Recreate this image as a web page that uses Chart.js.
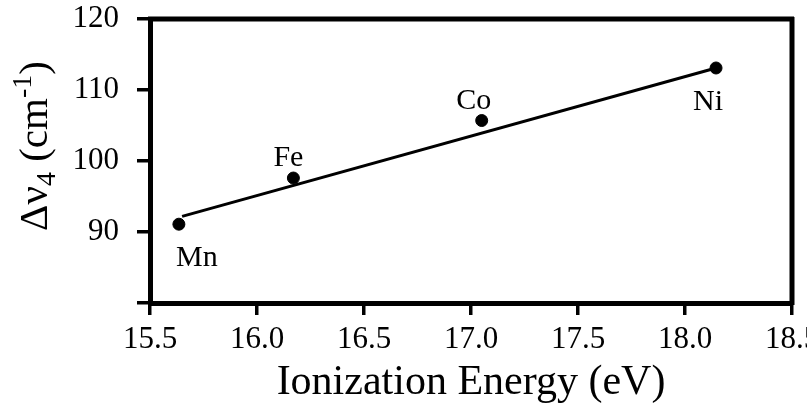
<!DOCTYPE html>
<html><head><meta charset="utf-8">
<script src="https://cdn.jsdelivr.net/npm/chart.js@4"></script>
<style>html,body{margin:0;padding:0;background:#fff}#wrap{width:807px;height:412px}</style>
</head><body><div id="wrap"><canvas id="c" width="807" height="412"></canvas></div>
<script>
const elements = ['Mn', 'Fe', 'Co', 'Ni'];
const ionization = [15.635, 16.17, 17.05, 18.145];
const deltaNu4 = [91.1, 97.6, 105.7, 113.1];
const labelSide = ['below', 'above', 'above', 'below'];
const fitX = [15.65, 18.145];
const fitY = [92.2, 113.1];
const xTicks = [15.5, 16.0, 16.5, 17.0, 17.5, 18.0, 18.5];
const yTicks = [80, 90, 100, 110, 120];
const yTickLabels = ['', '90', '100', '110', '120'];

const SERIF = '"Liberation Serif", "DejaVu Serif", serif';
const labelDx = [18, -5, -8, -8];

const pointLabels = {
  id: 'pointLabels',
  afterDatasetsDraw(chart) {
    const ctx = chart.ctx;
    const meta = chart.getDatasetMeta(1);
    ctx.save();
    ctx.font = '30px ' + SERIF;
    ctx.fillStyle = '#000';
    ctx.textAlign = 'center';
    ctx.textBaseline = 'alphabetic';
    meta.data.forEach((pt, i) => {
      const dy = labelSide[i] === 'below' ? 42 : -12;
      ctx.fillText(elements[i], pt.x + labelDx[i], pt.y + dy);
    });
    ctx.restore();
  }
};

const frame = {
  id: 'frame',
  afterDraw(chart) {
    const a = chart.chartArea, ctx = chart.ctx;
    ctx.save();
    ctx.strokeStyle = '#000';
    ctx.lineWidth = 5;
    ctx.beginPath();
    ctx.moveTo(a.left - 2, a.top); ctx.lineTo(a.right + 2, a.top);
    ctx.moveTo(a.right, a.top - 2); ctx.lineTo(a.right, a.bottom + 2);
    ctx.stroke();
    // y title with subscript / superscript
    ctx.translate(33, 146);
    ctx.rotate(-Math.PI / 2);
    ctx.fillStyle = '#000';
    ctx.textBaseline = 'alphabetic';
    const big = '41px ' + SERIF, small = '28px ' + SERIF;
    const parts = [['Δν', big, 0], ['4', small, 8], [' (cm', big, 0], ['-1', small, -16], [')', big, 0]];
    let w = 0;
    parts.forEach(p => { ctx.font = p[1]; w += ctx.measureText(p[0]).width; });
    let x = -w / 2;
    parts.forEach(p => { ctx.font = p[1]; ctx.fillText(p[0], x, 14 + p[2]); x += ctx.measureText(p[0]).width; });
    ctx.restore();
  }
};

new Chart(document.getElementById('c'), {
  data: {
    datasets: [
      {
        type: 'line',
        data: fitX.map((x, i) => ({ x, y: fitY[i] })),
        borderColor: '#000', borderWidth: 3, pointRadius: 0, fill: false
      },
      {
        type: 'scatter',
        data: ionization.map((x, i) => ({ x, y: deltaNu4[i] })),
        backgroundColor: '#000', borderColor: '#000', pointRadius: 6
      }
    ]
  },
  options: {
    responsive: false,
    animation: false,
    layout: { padding: { top: 19, right: 15, left: 0, bottom: 0 } },
    plugins: { legend: { display: false }, tooltip: { enabled: false } },
    scales: {
      x: {
        type: 'linear', min: 15.5, max: 18.5,
        afterBuildTicks: s => { s.ticks = xTicks.map(v => ({ value: v })); },
        afterFit: s => { s.height = 109; s.paddingLeft = 0; s.paddingRight = 0; },
        border: { color: '#000', width: 5 },
        grid: { drawOnChartArea: false, color: '#000', tickLength: 12, lineWidth: 3.5 },
        ticks: { color: '#000', font: { family: SERIF, size: 31 }, padding: 6, maxRotation: 0,
          callback: v => v.toFixed(1) },
        title: { display: true, text: 'Ionization Energy (eV)', color: '#000',
          font: { family: SERIF, size: 42 }, padding: { top: 7 } }
      },
      y: {
        type: 'linear', min: 80, max: 120,
        afterBuildTicks: s => { s.ticks = yTicks.map(v => ({ value: v })); },
        afterFit: s => { s.width = 150; s.paddingTop = 0; s.paddingBottom = 0; },
        border: { color: '#000', width: 5 },
        grid: { drawOnChartArea: false, color: '#000', tickLength: 13, lineWidth: 3.5 },
        ticks: { color: '#000', font: { family: SERIF, size: 31 }, padding: 18,
          callback: (v, i) => yTickLabels[yTicks.indexOf(v)] }
      }
    }
  },
  plugins: [pointLabels, frame]
});
</script></body></html>
